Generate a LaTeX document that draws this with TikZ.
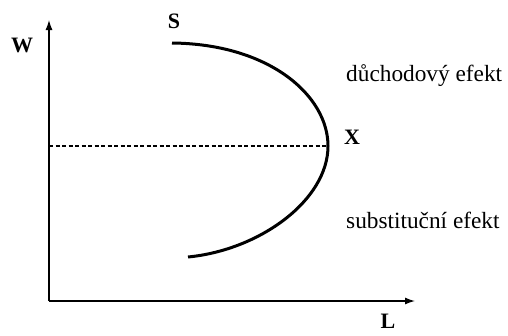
\documentclass[tikz,border=0pt]{standalone}
\usepackage{fontspec}
\setmainfont{Liberation Serif}
\usetikzlibrary{arrows.meta}
\begin{document}
\begin{tikzpicture}[x=1pt,y=-1pt,
  axis/.style={line width=1.3pt,-{Latex[length=10pt,width=7pt]}},
  curve/.style={line width=3pt},
  guide/.style={line width=1.1pt,dash pattern=on 4pt off 2.5pt},
  letter/.style={font=\fontsize{22}{24}\selectfont\bfseries,inner sep=0pt},
  label/.style={font=\fontsize{23.3}{25}\selectfont,inner sep=0pt,anchor=west}]
\useasboundingbox (0,0) rectangle (508,335);
\coordinate (O) at (49,301);
\coordinate (Ytip) at (49,20);
\coordinate (Xtip) at (415,301);
\coordinate (Cs) at (172,43);
\coordinate (Cm) at (328,146);
\coordinate (Ce) at (188,257);
\coordinate (Dl) at (49,146);
\draw[axis] (O) -- (Ytip);
\draw[axis] (O) -- (Xtip);
\draw[guide] (Dl) -- (Cm);
\draw[curve] (Cs) .. controls (270,44) and (328,96) .. (Cm)
  .. controls (328,200) and (260,250) .. (Ce);
\node[letter] (W) at (22,45) {W};
\node[letter] (S) at (174,21) {S};
\node[letter] (X) at (352,137) {X};
\node[letter] (L) at (388,321) {L};
\node[label] (de) at (346,76) {důchodový efekt};
\node[label] (se) at (346,220) {substituční efekt};
\end{tikzpicture}
\end{document}
